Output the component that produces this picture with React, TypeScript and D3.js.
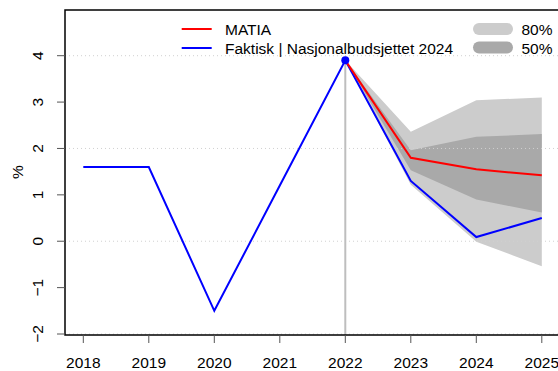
import React from "react";
import * as d3 from "d3";

// Observed series (annual, %)
const years = [2018, 2019, 2020, 2021, 2022, 2023, 2024, 2025];
const actual = [1.6, 1.6, -1.5, 1.2, 3.9, 1.3, 0.09, 0.5];

// Model forecast from 2022
const fcYears = [2022, 2023, 2024, 2025];
const matia = [3.9, 1.8, 1.55, 1.42];
const lo80 = [3.9, 1.22, -0.01, -0.54];
const hi80 = [3.9, 2.36, 3.04, 3.1];
const lo50 = [3.9, 1.53, 0.9, 0.62];
const hi50 = [3.9, 1.96, 2.25, 2.31];

const yTicks = [-2, -1, 0, 1, 2, 3, 4];
const gridTicks = [-2, 0, 2, 4];
const anchorYear = 2022;
const anchorValue = 3.9;

const W = 558;
const H = 371;
const FONT = "'Liberation Sans', Arial, sans-serif";
const FS = 15.5;

export default function App() {
  const left = 65;
  const top = 10;
  const bottom = 335;
  const right = 580;

  const x = d3.scaleLinear().domain([2018, 2025]).range([83.3, 541.8]);
  const y = d3.scaleLinear().domain([-2, 4]).range([334, 55.7]);

  const line = d3
    .line<[number, number]>()
    .x((d) => x(d[0]))
    .y((d) => y(d[1]));

  const band = (lo: number[], hi: number[]) =>
    d3
      .area<number>()
      .x((_, i) => x(fcYears[i]))
      .y0((_, i) => y(lo[i]))
      .y1((_, i) => y(hi[i]))(fcYears.map((_, i) => i)) ?? "";

  const actualPath = line(years.map((yr, i) => [yr, actual[i]])) ?? "";
  const matiaPath = line(fcYears.map((yr, i) => [yr, matia[i]])) ?? "";

  return (
    <svg
      width={W}
      height={H}
      style={{ position: "fixed", left: 0, top: 0, background: "#fff" }}
      fontFamily={FONT}
    >
      {/* forecast bands */}
      <path d={band(lo80, hi80)} fill="#cccccc" />
      <path d={band(lo50, hi50)} fill="#a9a9a9" />

      {/* grid */}
      {gridTicks.map((t) => (
        <line
          key={t}
          x1={left}
          x2={right}
          y1={y(t)}
          y2={y(t)}
          stroke="#d0d0d0"
          strokeWidth={1}
          strokeDasharray="1 3"
        />
      ))}

      {/* forecast origin */}
      <line
        x1={x(anchorYear)}
        x2={x(anchorYear)}
        y1={y(anchorValue)}
        y2={bottom}
        stroke="#bebebe"
        strokeWidth={2}
      />

      <path d={actualPath} fill="none" stroke="#0000ff" strokeWidth={2} />
      <path d={matiaPath} fill="none" stroke="#ff0000" strokeWidth={2} />
      <circle cx={x(anchorYear)} cy={y(anchorValue)} r={4} fill="#0000ff" />

      {/* frame */}
      <path
        d={`M${right},${top}H${left}V${bottom}H${right}`}
        fill="none"
        stroke="#000"
        strokeWidth={1.5}
      />

      {/* y axis */}
      {yTicks.map((t) => (
        <g key={t}>
          <line x1={57} x2={left} y1={y(t)} y2={y(t)} stroke="#555" strokeWidth={1} />
          <text
            transform={`translate(43,${y(t)}) rotate(-90)`}
            textAnchor="middle"
            fontSize={FS}
            fill="#000"
          >
            {t < 0 ? `\u2212${Math.abs(t)}` : `${t}`}
          </text>
        </g>
      ))}
      <text
        transform={`translate(23,172) rotate(-90)`}
        textAnchor="middle"
        fontSize={FS}
      >
        %
      </text>

      {/* x axis */}
      {years.map((yr) => (
        <g key={yr}>
          <line x1={x(yr)} x2={x(yr)} y1={bottom} y2={343} stroke="#555" strokeWidth={1} />
          <text x={x(yr)} y={367.5} textAnchor="middle" fontSize={FS}>
            {yr}
          </text>
        </g>
      ))}

      {/* legend */}
      <line x1={181.7} x2={211.7} y1={29} y2={29} stroke="#ff0000" strokeWidth={2} />
      <line x1={181.7} x2={211.7} y1={48} y2={48} stroke="#0000ff" strokeWidth={2} />
      <text x={225} y={35} fontSize={FS}>MATIA</text>
      <text x={225} y={53.5} fontSize={FS}>Faktisk | Nasjonalbudsjettet 2024</text>

      <line x1={479} x2={507} y1={29} y2={29} stroke="#cccccc" strokeWidth={12} strokeLinecap="round" />
      <line x1={479} x2={507} y1={47.5} y2={47.5} stroke="#a9a9a9" strokeWidth={12} strokeLinecap="round" />
      <text x={521.5} y={35} fontSize={FS}>80%</text>
      <text x={521.5} y={53.5} fontSize={FS}>50%</text>
    </svg>
  );
}
